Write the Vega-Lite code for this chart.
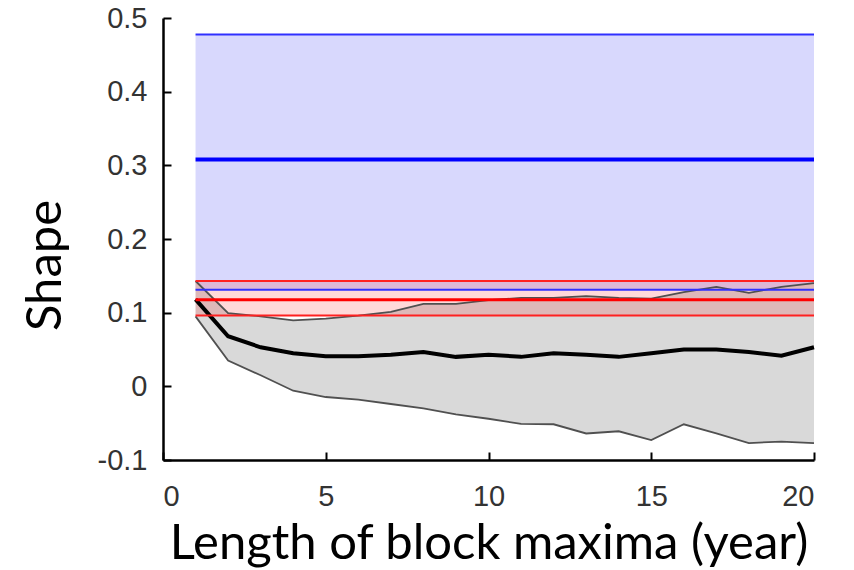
{
  "$schema": "https://vega.github.io/schema/vega-lite/v6.json",
  "width": 651,
  "height": 442,
  "autosize": "none",
  "padding": {"left": 163, "top": 18, "right": 40, "bottom": 110},
  "background": "white",
  "config": {
    "view": {"stroke": null},
    "axis": {
      "grid": false,
      "domainColor": "black",
      "domainWidth": 2.5,
      "tickColor": "black",
      "tickWidth": 2,
      "labelFont": "Liberation Sans",
      "labelFontSize": 29,
      "labelColor": "#333333",
      "titleFont": "Lato",
      "titleFontSize": 49,
      "titleFontWeight": "normal",
      "titleColor": "black"
    }
  },
  "datasets": {
    "bands": [
      {"band": "blue", "xs": 1, "xe": 20, "lo": 0.131, "mid": 0.308, "hi": 0.4776},
      {"band": "red", "xs": 1, "xe": 20, "lo": 0.0963, "mid": 0.1176, "hi": 0.143}
    ],
    "series": [
      {"x": 1, "lower": 0.095, "median": 0.118, "upper": 0.143},
      {"x": 2, "lower": 0.035, "median": 0.068, "upper": 0.0995},
      {"x": 3, "lower": 0.015, "median": 0.053, "upper": 0.095},
      {"x": 4, "lower": -0.006, "median": 0.045, "upper": 0.0895},
      {"x": 5, "lower": -0.0145, "median": 0.041, "upper": 0.092},
      {"x": 6, "lower": -0.018, "median": 0.041, "upper": 0.096},
      {"x": 7, "lower": -0.024, "median": 0.043, "upper": 0.101},
      {"x": 8, "lower": -0.03, "median": 0.0465, "upper": 0.112},
      {"x": 9, "lower": -0.038, "median": 0.04, "upper": 0.112},
      {"x": 10, "lower": -0.044, "median": 0.043, "upper": 0.117},
      {"x": 11, "lower": -0.051, "median": 0.04, "upper": 0.12},
      {"x": 12, "lower": -0.0515, "median": 0.045, "upper": 0.12},
      {"x": 13, "lower": -0.064, "median": 0.043, "upper": 0.1225},
      {"x": 14, "lower": -0.061, "median": 0.04, "upper": 0.12},
      {"x": 15, "lower": -0.073, "median": 0.045, "upper": 0.119},
      {"x": 16, "lower": -0.0515, "median": 0.05, "upper": 0.128},
      {"x": 17, "lower": -0.064, "median": 0.05, "upper": 0.135},
      {"x": 18, "lower": -0.077, "median": 0.0465, "upper": 0.127},
      {"x": 19, "lower": -0.075, "median": 0.0415, "upper": 0.135},
      {"x": 20, "lower": -0.077, "median": 0.053, "upper": 0.14}
    ]
  },
  "encoding": {
    "x": {
      "type": "quantitative",
      "scale": {"domain": [0, 20], "nice": false, "zero": false},
      "axis": {
        "values": [0, 5, 10, 15, 20],
        "title": "Length of block maxima (year)",
        "tickSize": -8,
        "labelPadding": 30,
        "titleY": 83,
        "titleBaseline": "middle"
      }
    },
    "y": {
      "type": "quantitative",
      "scale": {"domain": [-0.1, 0.5], "nice": false, "zero": false},
      "axis": {
        "values": [-0.1, 0, 0.1, 0.2, 0.3, 0.4, 0.5],
        "labelExpr": "'' + datum.value",
        "tickSize": -8,
        "labelPadding": 24,
        "title": "Shape",
        "titleX": -118,
        "titleY": 247,
        "titleAngle": -90,
        "titleAlign": "center",
        "titleBaseline": "middle"
      }
    }
  },
  "layer": [
    {
      "data": {"name": "bands"},
      "transform": [{"filter": "datum.band == 'blue'"}],
      "mark": {"type": "rect", "color": "#d8d8fd"},
      "encoding": {
        "x": {"field": "xs", "type": "quantitative"},
        "x2": {"field": "xe"},
        "y": {"field": "lo", "type": "quantitative"},
        "y2": {"field": "hi"}
      }
    },
    {
      "data": {"name": "series"},
      "mark": {"type": "area", "color": "#d9d9d9", "opacity": 1},
      "encoding": {
        "x": {"field": "x", "type": "quantitative"},
        "y": {"field": "lower", "type": "quantitative"},
        "y2": {"field": "upper"}
      }
    },
    {
      "data": {"name": "bands"},
      "transform": [{"filter": "datum.band == 'red'"}],
      "mark": {"type": "rect", "color": "#ff0000", "opacity": 0.15},
      "encoding": {
        "x": {"field": "xs", "type": "quantitative"},
        "x2": {"field": "xe"},
        "y": {"field": "lo", "type": "quantitative"},
        "y2": {"field": "hi"}
      }
    },
    {
      "data": {"name": "series"},
      "mark": {"type": "line", "color": "#505050", "strokeWidth": 1.8},
      "encoding": {
        "x": {"field": "x", "type": "quantitative"},
        "y": {"field": "upper", "type": "quantitative"}
      }
    },
    {
      "data": {"name": "series"},
      "mark": {"type": "line", "color": "#505050", "strokeWidth": 1.8},
      "encoding": {
        "x": {"field": "x", "type": "quantitative"},
        "y": {"field": "lower", "type": "quantitative"}
      }
    },
    {
      "data": {"name": "series"},
      "mark": {"type": "line", "color": "black", "strokeWidth": 4},
      "encoding": {
        "x": {"field": "x", "type": "quantitative"},
        "y": {"field": "median", "type": "quantitative"}
      }
    },
    {
      "data": {"name": "bands"},
      "transform": [{"filter": "datum.band == 'red'"}],
      "mark": {"type": "rule", "color": "#ff2020", "strokeWidth": 2},
      "encoding": {
        "x": {"field": "xs", "type": "quantitative"},
        "x2": {"field": "xe"},
        "y": {"field": "lo", "type": "quantitative"}
      }
    },
    {
      "data": {"name": "bands"},
      "transform": [{"filter": "datum.band == 'red'"}],
      "mark": {"type": "rule", "color": "#ff2020", "strokeWidth": 2},
      "encoding": {
        "x": {"field": "xs", "type": "quantitative"},
        "x2": {"field": "xe"},
        "y": {"field": "hi", "type": "quantitative"}
      }
    },
    {
      "data": {"name": "bands"},
      "transform": [{"filter": "datum.band == 'red'"}],
      "mark": {"type": "rule", "color": "#ff0000", "strokeWidth": 3},
      "encoding": {
        "x": {"field": "xs", "type": "quantitative"},
        "x2": {"field": "xe"},
        "y": {"field": "mid", "type": "quantitative"}
      }
    },
    {
      "data": {"name": "bands"},
      "transform": [{"filter": "datum.band == 'blue'"}],
      "mark": {"type": "rule", "color": "#3030ff", "strokeWidth": 2},
      "encoding": {
        "x": {"field": "xs", "type": "quantitative"},
        "x2": {"field": "xe"},
        "y": {"field": "lo", "type": "quantitative"}
      }
    },
    {
      "data": {"name": "bands"},
      "transform": [{"filter": "datum.band == 'blue'"}],
      "mark": {"type": "rule", "color": "#3030ff", "strokeWidth": 2},
      "encoding": {
        "x": {"field": "xs", "type": "quantitative"},
        "x2": {"field": "xe"},
        "y": {"field": "hi", "type": "quantitative"}
      }
    },
    {
      "data": {"name": "bands"},
      "transform": [{"filter": "datum.band == 'blue'"}],
      "mark": {"type": "rule", "color": "#0000ff", "strokeWidth": 4},
      "encoding": {
        "x": {"field": "xs", "type": "quantitative"},
        "x2": {"field": "xe"},
        "y": {"field": "mid", "type": "quantitative"}
      }
    }
  ]
}
